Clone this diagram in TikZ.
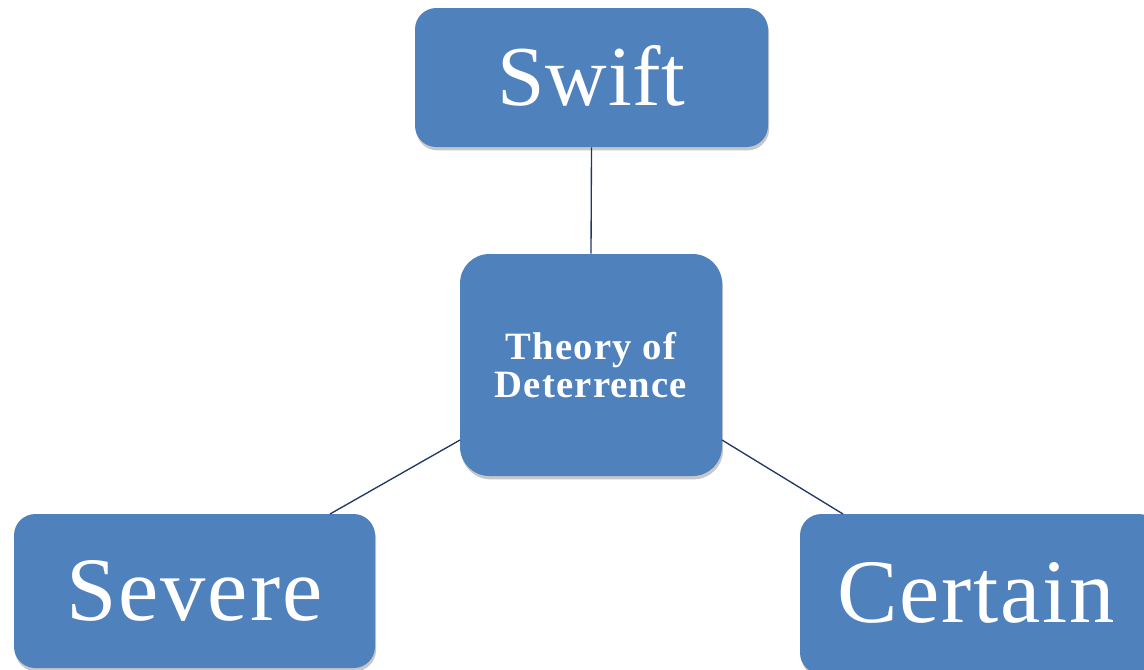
\documentclass[tikz,border=0pt]{standalone}
\usepackage{fontspec}
\setmainfont{Liberation Serif}
\usetikzlibrary{shadows}
\definecolor{boxblue}{HTML}{4F81BD}
\definecolor{linenavy}{HTML}{1F3864}
\begin{document}
\begin{tikzpicture}[x=0.75pt,y=-0.75pt,
  box/.style={fill=boxblue, draw=none, rounded corners=16pt, text=white,
    drop shadow={shadow xshift=0.8pt, shadow yshift=-2.5pt, opacity=0.22, fill=black}},
  big/.style={font=\fontsize{68}{74}\selectfont\addfontfeature{LetterSpace=2}},
  link/.style={draw=linenavy, line width=1pt}]
\useasboundingbox (0,0) rectangle (1144,669);
\begin{scope}
\clip (0,0) rectangle (1144,669);
\node[box, minimum width=353*0.75pt, minimum height=139*0.75pt, font=\fontsize{64}{70}\selectfont\addfontfeature{LetterSpace=1}] (swift) at (591.5,77.5) {\raisebox{3pt}{Swift}};
\node[box, rounded corners=22pt, minimum width=262*0.75pt, minimum height=222*0.75pt, align=center, font=\fontsize{29}{29}\selectfont\bfseries\addfontfeature{LetterSpace=3}] (theory) at (591,365) {Theory of\\Deterrence};
\node[box, big, minimum width=361*0.75pt, minimum height=154*0.75pt] (severe) at (194.5,591) {\raisebox{1pt}{Severe}};
\node[box, big, minimum width=360*0.75pt, minimum height=160*0.75pt, text width=344*0.75pt, align=left] (certain) at (980,594) {\hspace*{22pt}\raisebox{2pt}{Certain}};
\end{scope}
\draw[link] (swift.south) -- (theory.north);
\coordinate (tl) at (460,440);
\coordinate (tr) at (722,440);
\coordinate (sv) at (330,514);
\coordinate (ct) at (843,514);
\draw[link] (tl) -- (sv);
\draw[link] (tr) -- (ct);
\end{tikzpicture}
\end{document}
